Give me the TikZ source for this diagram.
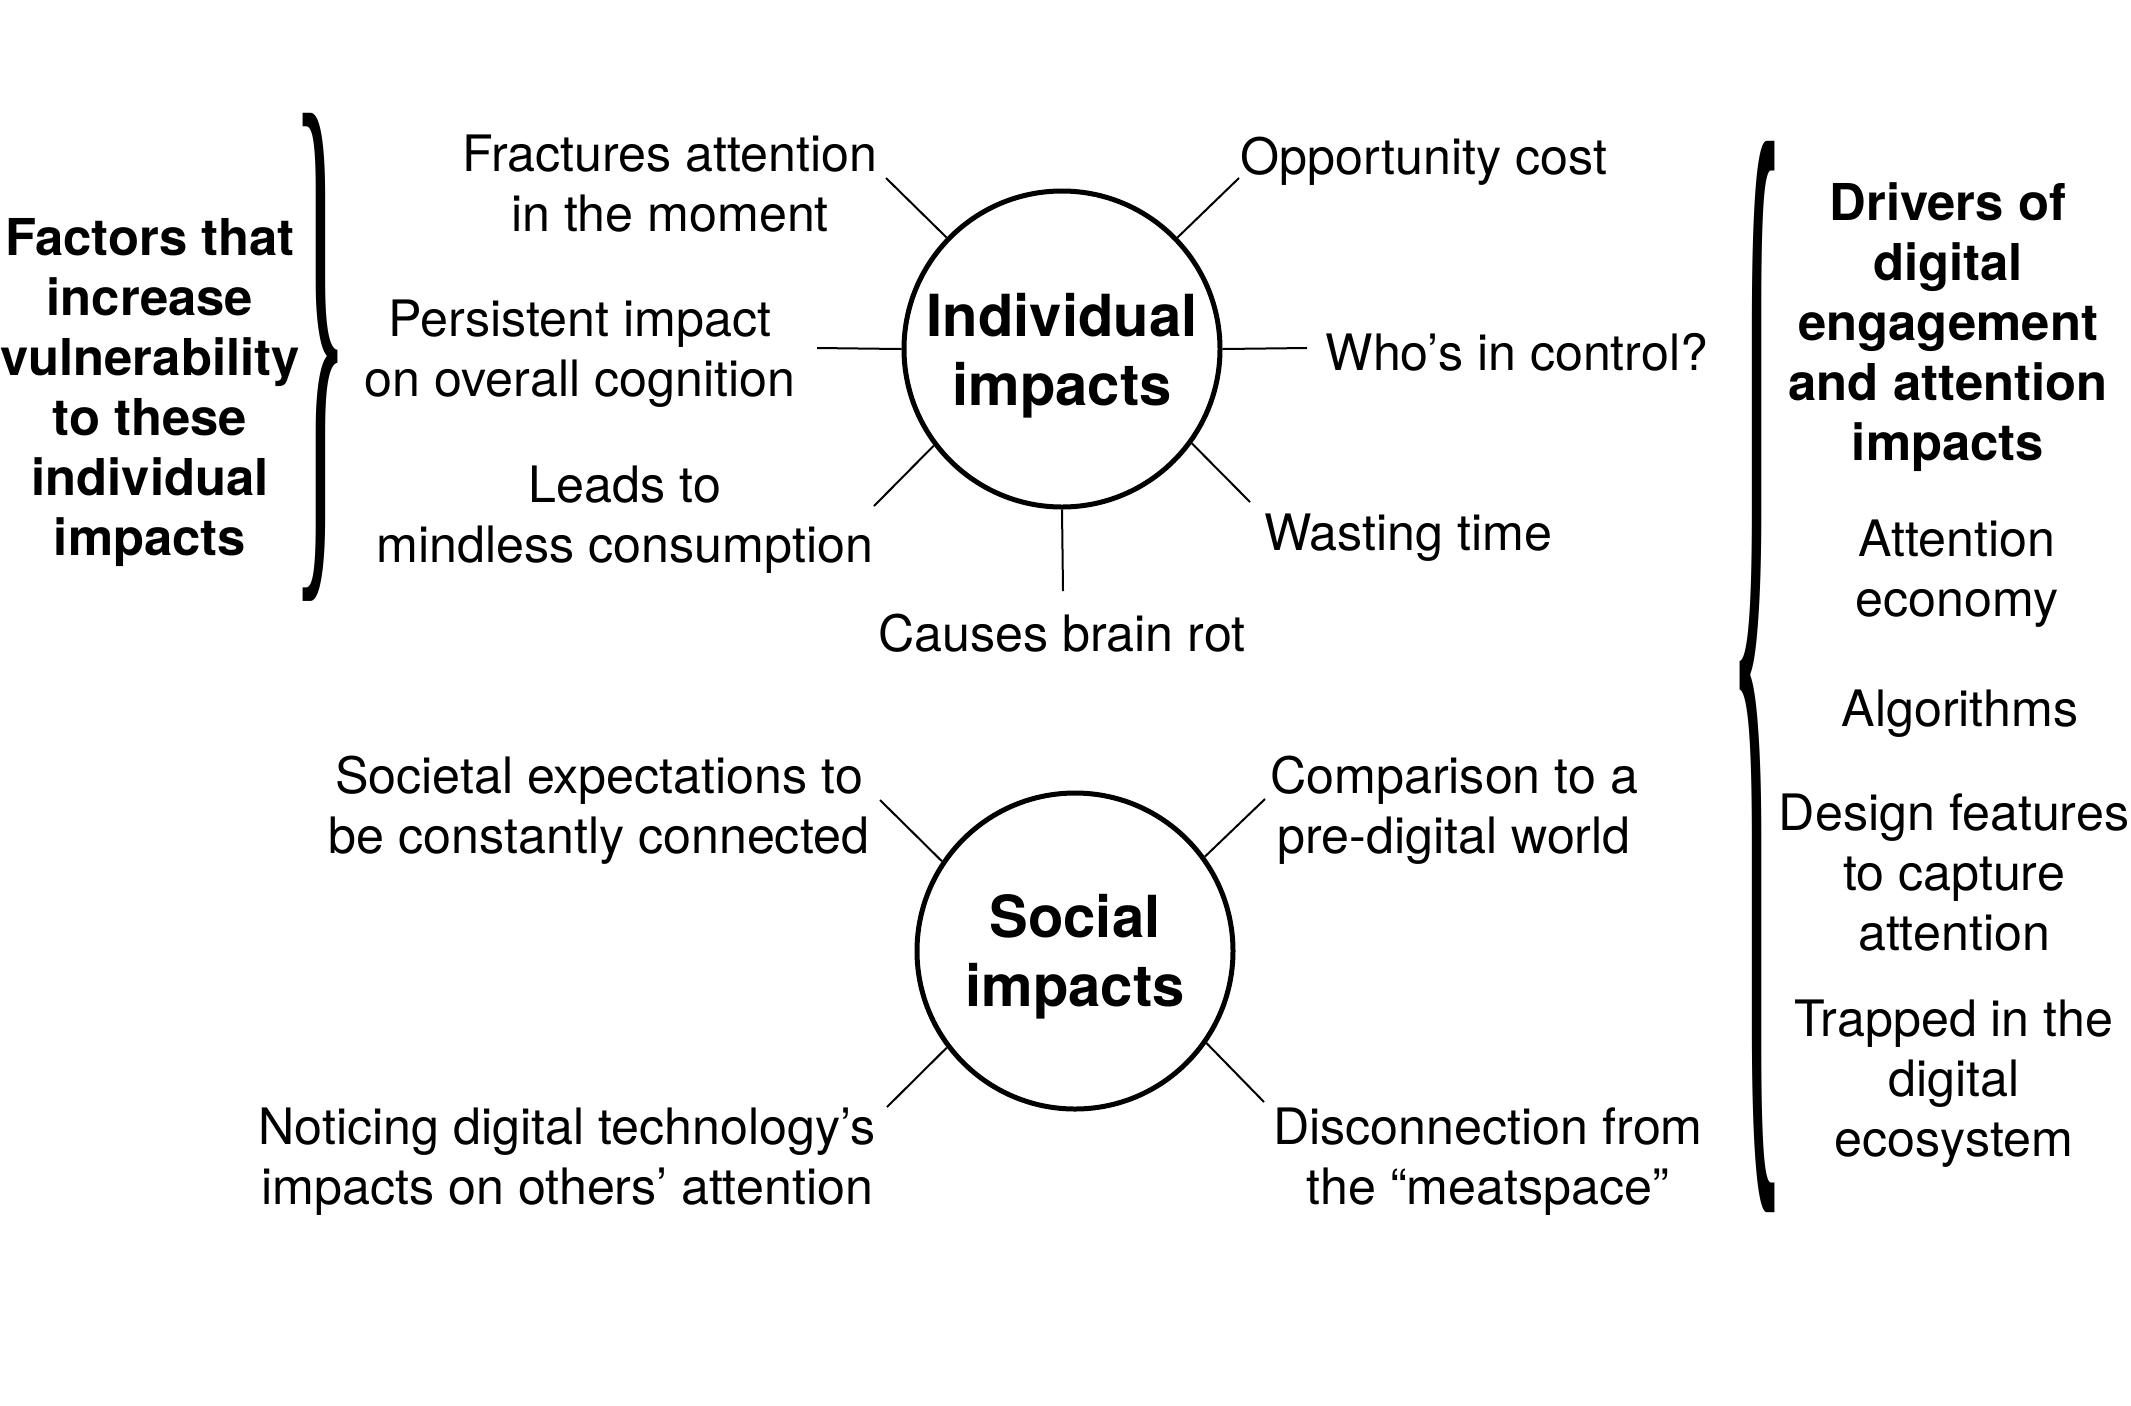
\documentclass[tikz,border=0pt]{standalone}
\usepackage{fontspec}
\setmainfont{TeX Gyre Heros}
\newfontfamily\bracefont{Liberation Serif}
\usepackage{graphicx}
\usepackage{tikz}
\usetikzlibrary{positioning}

\begin{document}
\begin{tikzpicture}[
      x=0.25pt, y=-0.25pt,
      type-hub/.style={circle, draw, line width=1.25pt, minimum size=79pt, inner sep=0pt, align=center, font=\bfseries\fontsize{14.5}{17.3}\selectfont},
      type-leaf/.style={align=center, inner sep=0pt, font=\fontsize{12.55}{15}\selectfont},
      type-head/.style={type-leaf, font=\bfseries\fontsize{12.7}{15}\selectfont},
      type-brace/.style={inner sep=0pt, font=\bracefont},
      spoke/.style={line width=0.5pt}
    ]
      \useasboundingbox (0,0) rectangle (2131,1405);

      % the two hubs
      \node[type-hub] (indiv) at (1062,349) {\rule{0pt}{14pt}Individual\\impacts};
      \node[type-hub] (social) at (1075,951) {\rule{0pt}{13.6pt}Social\\impacts};

      % individual impacts
      \node[type-leaf] (fract) at (670,184) {Fractures attention\\in the moment};
      \node[type-leaf] (opport) at (1424,161) {Opportunity cost};
      \node[type-leaf] (persist) at (580,354) {Persistent impact\\on overall cognition};
      \node[type-leaf] (control) at (1517,352) {Who’s in control?};
      \node[type-leaf] (mindless) at (625,520) {Leads to\\mindless consumption};
      \node[type-leaf] (wasting) at (1408,538) {Wasting time};
      \node[type-leaf] (brainrot) at (1062,633) {Causes brain rot};

      \coordinate (s1) at (886,178);
      \coordinate (s2) at (1239,178);
      \coordinate (s3) at (817,348);
      \coordinate (s4) at (1307,348);
      \coordinate (s5) at (874,506);
      \coordinate (s6) at (1250,502);
      \coordinate (s7) at (1063,591);
      \draw[spoke] (indiv.136) -- (s1);
      \draw[spoke] (indiv.44) -- (s2);
      \draw[spoke] (indiv.180) -- (s3);
      \draw[spoke] (indiv.0) -- (s4);
      \draw[spoke] (indiv.217) -- (s5);
      \draw[spoke] (indiv.324) -- (s6);
      \draw[spoke] (indiv.270) -- (s7);

      % social impacts
      \node[type-leaf] (expect) at (599,810) {Societal expectations to\\be constantly connected};
      \node[type-leaf] (compare) at (1454,810) {Comparison to a\\pre-digital world};
      \node[type-leaf] (noticing) at (567,1162) {Noticing digital technology’s\\impacts on others’ attention};
      \node[type-leaf] (disconn) at (1488,1162) {Disconnection from\\the “meatspace”};

      \coordinate (t1) at (880,800);
      \coordinate (t2) at (1265,799);
      \coordinate (t3) at (887,1107);
      \coordinate (t4) at (1264,1102);
      \draw[spoke] (social.146) -- (t1);
      \draw[spoke] (social.36) -- (t2);
      \draw[spoke] (social.217) -- (t3);
      \draw[spoke] (social.325) -- (t4);

      % left side
      \node[type-head] (factors) at (150,393) {Factors that\\increase\\vulnerability\\to these\\individual\\impacts};
      \node[type-brace] (lbrace) at (320,357) {\resizebox*{14pt}{122pt}{\}}};

      % right side
      \node[type-brace] (rbrace) at (1757,677) {\resizebox*{14pt}{267pt}{\{}};
      \node[type-head] (drivers) at (1948,327) {Drivers of\\digital\\engagement\\and attention\\impacts};
      \node[type-leaf] (economy) at (1957,574) {Attention\\economy};
      \node[type-leaf] (algo) at (1960,714) {Algorithms};
      \node[type-leaf] (design) at (1954,872) {Design features\\to capture\\attention};
      \node[type-leaf] (trapped) at (1954,1084) {Trapped in the\\digital\\ecosystem};
    \end{tikzpicture}
\end{document}
